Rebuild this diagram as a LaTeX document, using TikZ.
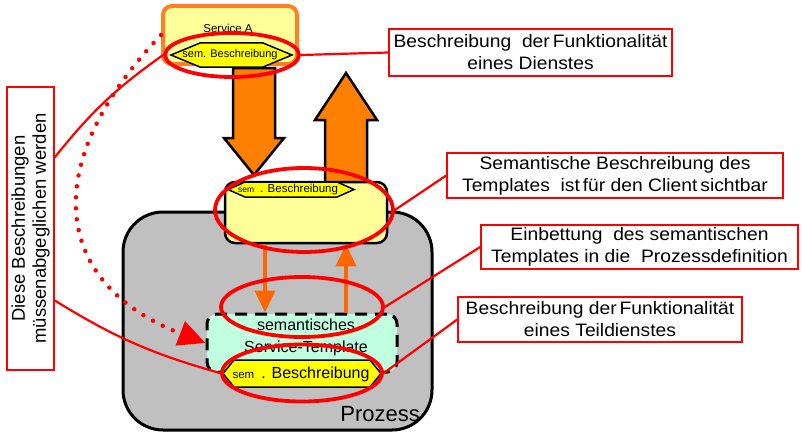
\documentclass[tikz,border=0pt]{standalone}
\usepackage{fontspec}
\setmainfont{Liberation Sans}
\newfontfamily\calloutfont[FakeStretch=1.07]{Liberation Sans}
\usetikzlibrary{shapes.geometric,arrows.meta,calc}

\definecolor{paleyellow}{RGB}{255,255,153}
\definecolor{hexyellow}{RGB}{255,255,0}
\definecolor{bigorange}{RGB}{255,128,0}
\definecolor{thinorange}{RGB}{255,102,0}
\definecolor{frameorange}{RGB}{255,128,32}
\definecolor{mint}{RGB}{192,255,224}
\definecolor{procgray}{RGB}{192,192,192}
\definecolor{markred}{RGB}{255,0,0}

% hexagonal label plate: centre x, centre y, half width, half height, point depth
\newcommand\hexshape[5]{%
  \draw[hexbox] (#1-#3,#2) -- (#1-#3+#5,#2-#4) -- (#1+#3-#5,#2-#4) -- (#1+#3,#2)
    -- (#1+#3-#5,#2+#4) -- (#1-#3+#5,#2+#4) -- cycle;}

\tikzset{
  callout/.style={draw=markred, line width=1.5pt, fill=white, align=center,
    font=\calloutfont\fontsize{18}{22}\selectfont, inner sep=0pt},
  markring/.style={draw=markred, line width=3.8pt, ellipse, inner sep=0pt},
  markline/.style={draw=markred, line width=2.2pt},
  dotline/.style={draw=markred, line width=4.5pt, line cap=round,
    dash pattern=on 0pt off 11pt, -{Triangle[length=27pt,width=25pt]}},
  hexbox/.style={fill=hexyellow, draw=black, line width=1.5pt, line join=miter},
  bigarrow/.style={fill=bigorange, draw=black, line width=2.5pt, line join=miter},
  thinarrow/.style={draw=thinorange, line width=4pt,
    -{Triangle[length=22pt,width=20pt]}},
  plain/.style={inner sep=0pt},
}

\begin{document}
\begin{tikzpicture}[x=1pt,y=-1pt]
\useasboundingbox (0,0) rectangle (802,436);
\fill[white] (0,0) rectangle (802,436);

% process container
\node[draw=black, line width=3pt, fill=procgray, rounded corners=40pt,
  minimum width=309pt, minimum height=218pt, plain] (proc) at (277.5,321) {};
\node[plain, anchor=base east, font=\fontsize{22}{26}\selectfont] (proclabel)
  at (420,421) {Prozess};

% large exchange arrows
\draw[bigarrow] (233,68) -- (275,68) -- (275,138) -- (284,138) -- (254,175)
  -- (224,138) -- (233,138) -- cycle;
\draw[bigarrow] (325,192) -- (367,192) -- (367,120) -- (377,120) -- (346,73)
  -- (315,120) -- (325,120) -- cycle;

% service A
\node[draw=frameorange, line width=4pt, fill=paleyellow, rounded corners=9pt,
  minimum width=134pt, minimum height=58pt, plain] (svcA) at (230,35) {};
\node[plain, font=\fontsize{11.5}{14}\selectfont] (svcAlabel) at (228,28) {Service A};
\hexshape{231.5}{55}{60.5}{12}{29}
\node[plain, font=\fontsize{11}{13}\selectfont] (svcAhex) at (230,55) {sem. Beschreibung};

% template visible to the client
\node[draw=black, line width=2.5pt, fill=paleyellow, rounded corners=10pt,
  minimum width=162pt, minimum height=61pt, plain] (tmpl) at (306,212.5) {};
\hexshape{291}{189.5}{63}{7.5}{17}
\node[plain, anchor=west] (tmplhex) at (238,190)
  {{\fontsize{8.5}{10}\selectfont sem}\hspace{6pt}{\fontsize{11.5}{13}\selectfont . Beschreibung}};

% semantic service template inside the process
\node[draw=black, line width=3pt, dash pattern=on 12pt off 8pt, fill=mint,
  rounded corners=10pt, minimum width=190pt, minimum height=58pt, plain]
  (stmpl) at (302,343) {};
\node[plain, align=center, font=\fontsize{16}{22}\selectfont] (stmpltext)
  at (306,337) {semantisches\\Service-Template};
\hexshape{302}{373.5}{79}{13.5}{11}
\node[plain] (stmplhex) at (301,374)
  {{\fontsize{11.5}{13}\selectfont sem}\hspace{7pt}{\fontsize{16}{18}\selectfont . Beschreibung}};

% embedding arrows
\coordinate (dn) at (265,0);
\coordinate (up) at (346,0);
\draw[thinarrow] (tmpl.south -| dn) -- (stmpl.north -| dn);
\draw[thinarrow] (stmpl.north -| up) -- (tmpl.south -| up);

% highlight rings
\node[markring, minimum width=134pt, minimum height=44pt] (ellA) at (232,55) {};
\node[markring, minimum width=178pt, minimum height=84pt] (ellT) at (304,210) {};
\node[markring, minimum width=162pt, minimum height=60pt] (ellD) at (302,307) {};
\node[markring, minimum width=160pt, minimum height=57pt] (ellS) at (302,373) {};

% explanations
\node[callout, minimum width=283pt, minimum height=47pt] (c1) at (530.5,52.5)
  {Beschreibung\ \ der\,Funktionalität\\eines Dienstes};
\node[callout, minimum width=336pt, minimum height=45pt] (c2) at (615,175.5)
  {Semantische Beschreibung des\\Templates\ \ ist\,für den Client\,sichtbar};
\node[callout, minimum width=317pt, minimum height=44pt] (c3) at (639.5,247)
  {Einbettung\ \ des semantischen\\Templates in die\ \ Prozessdefinition};
\node[callout, minimum width=284pt, minimum height=45pt] (c4) at (600,319.5)
  {Beschreibung der\,Funktionalität\\eines Teildienstes};
\node[callout, rotate=90, minimum width=283pt, minimum height=47pt,
  font=\fontsize{18.5}{21}\selectfont] (callL)
  at (30.5,228.5) {Diese Beschreibungen\\müssenabgeglichen werden};

% connectors
\draw[markline] (c1.west) -- (ellA.east);
\draw[markline] (c2.west) -- (ellT.east);
\draw[markline] (c3.west) -- (ellD.east);
\draw[markline] (c4.west) -- (ellS.east);
\draw[markline] ($(callL.south east)!0.25!(callL.south west)$) to[bend left=8] (ellA.west);
\draw[markline] ($(callL.south east)!0.753!(callL.south west)$) to[bend right=8] (ellS.west);
\draw[dotline] (svcA.west) .. controls (33,170) and (57,286) .. (stmpl.west);
\end{tikzpicture}
\end{document}
